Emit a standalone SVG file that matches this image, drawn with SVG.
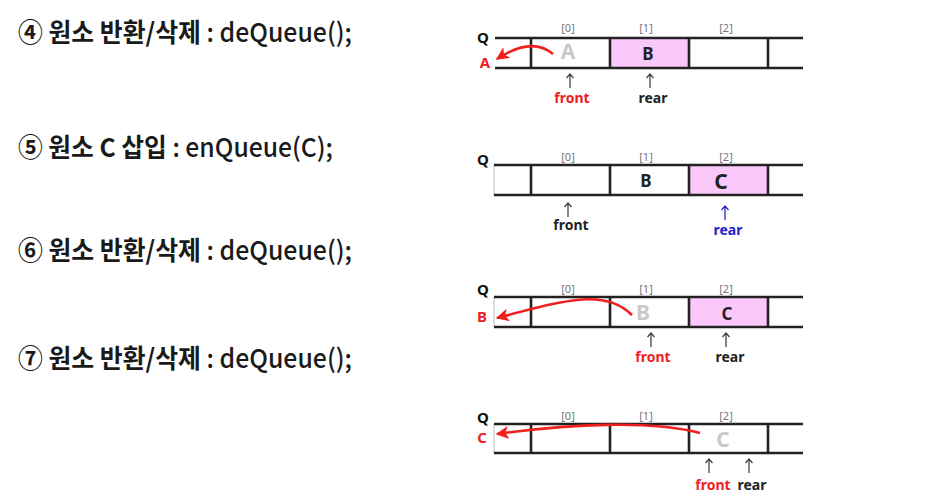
<svg xmlns="http://www.w3.org/2000/svg" width="927" height="495" viewBox="0 0 927 495">
<defs>
<style>
.step{font-family:"Noto Sans CJK KR","Noto Sans",sans-serif;font-size:26px;font-weight:bold;fill:#1a1a1a}
.lat{font-weight:500}
.rail{stroke:#222;stroke-width:2.6;fill:none}
.sep{stroke:#222;stroke-width:2.6}
.edge{stroke:#c8c8c8;stroke-width:1.2}
.pink{fill:#fbc8fb}
.q{font-family:"Noto Sans","Liberation Sans",sans-serif;font-size:15px;font-weight:bold;fill:#111;text-anchor:middle}
.idx{font-family:"Noto Sans","Liberation Sans",sans-serif;font-size:11px;fill:#777;text-anchor:middle}
.val{font-family:"Noto Sans","Liberation Sans",sans-serif;font-size:17px;font-weight:bold;fill:#222;text-anchor:middle}
.big{font-size:21px}
.gone{fill:#c8c8c8}
.ptr{font-family:"Noto Sans","Liberation Sans",sans-serif;font-size:14px;font-weight:bold;fill:#222;text-anchor:middle}
.red{fill:#f0201e}
.blue{fill:#2323cc}
.up{stroke:#444;stroke-width:1.3;fill:none}
.upb{stroke:#2323cc}
.mv{stroke:#f0201e;stroke-width:2.6;fill:none;marker-end:url(#ah)}
</style>
<marker id="ah" viewBox="0 0 10 10" refX="9" refY="5" markerWidth="5" markerHeight="5" orient="auto" markerUnits="strokeWidth">
<path d="M0,0 L10,5 L0,10 L2.5,5 Z" fill="#f0201e"/>
</marker>
</defs>
<rect width="927" height="495" fill="#fff"/>

<g id="steps">
<text class="step" x="18" y="42" textLength="334" lengthAdjust="spacingAndGlyphs">④ 원소 반환/삭제 <tspan class="lat">: deQueue();</tspan></text>
<text class="step" x="18" y="157" textLength="315" lengthAdjust="spacingAndGlyphs">⑤ 원소 C 삽입 <tspan class="lat">: enQueue(C);</tspan></text>
<text class="step" x="18" y="260" textLength="334" lengthAdjust="spacingAndGlyphs">⑥ 원소 반환/삭제 <tspan class="lat">: deQueue();</tspan></text>
<text class="step" x="18" y="368" textLength="334" lengthAdjust="spacingAndGlyphs">⑦ 원소 반환/삭제 <tspan class="lat">: deQueue();</tspan></text>
</g>

<g id="queue4">
<rect class="pink" x="610" y="38" width="79" height="30"/>
<line class="rail" x1="495" y1="38" x2="803" y2="38"/>
<line class="rail" x1="495" y1="68" x2="803" y2="68"/>
<line class="sep" x1="531" y1="38" x2="531" y2="68"/>
<line class="sep" x1="610" y1="38" x2="610" y2="68"/>
<line class="sep" x1="689" y1="38" x2="689" y2="68"/>
<line class="sep" x1="768" y1="38" x2="768" y2="68"/>
<text class="q" x="483" y="43">Q</text>
<text class="idx" x="568" y="32">[0]</text>
<text class="idx" x="646" y="32">[1]</text>
<text class="idx" x="726" y="32">[2]</text>
<text class="val big gone" x="568" y="59">A</text>
<text class="val" x="648" y="60">B</text>
<text class="q red" x="485" y="68">A</text>
<path class="up" d="M570,88 V74 M566.5,78 L570,74 L573.5,78"/>
<path class="up" d="M650,88 V74 M646.5,78 L650,74 L653.5,78"/>
<text class="ptr red" x="572" y="103">front</text>
<text class="ptr" x="653" y="103">rear</text>
</g>

<g id="queue5">
<rect class="pink" x="689" y="165" width="79" height="30"/>
<line class="edge" x1="494" y1="165" x2="494" y2="195"/>
<line class="rail" x1="494" y1="165" x2="803" y2="165"/>
<line class="rail" x1="494" y1="195" x2="803" y2="195"/>
<line class="sep" x1="531" y1="165" x2="531" y2="195"/>
<line class="sep" x1="610" y1="165" x2="610" y2="195"/>
<line class="sep" x1="689" y1="165" x2="689" y2="195"/>
<line class="sep" x1="768" y1="165" x2="768" y2="195"/>
<text class="q" x="483" y="165">Q</text>
<text class="idx" x="568" y="161">[0]</text>
<text class="idx" x="646" y="161">[1]</text>
<text class="idx" x="726" y="161">[2]</text>
<text class="val" x="646" y="187">B</text>
<text class="val big" x="721" y="189">C</text>
<path class="up" d="M568,217 V203 M564.5,207 L568,203 L571.5,207"/>
<path class="up upb" d="M725,220 V206 M721.5,210 L725,206 L728.5,210"/>
<text class="ptr" x="571" y="230">front</text>
<text class="ptr blue" x="728" y="235">rear</text>
</g>

<g id="queue6">
<rect class="pink" x="689" y="297" width="79" height="30"/>
<line class="edge" x1="494" y1="297" x2="494" y2="327"/>
<line class="rail" x1="494" y1="297" x2="803" y2="297"/>
<line class="rail" x1="494" y1="327" x2="803" y2="327"/>
<line class="sep" x1="531" y1="297" x2="531" y2="327"/>
<line class="sep" x1="610" y1="297" x2="610" y2="327"/>
<line class="sep" x1="689" y1="297" x2="689" y2="327"/>
<line class="sep" x1="768" y1="297" x2="768" y2="327"/>
<text class="q" x="483" y="295">Q</text>
<text class="idx" x="568" y="293">[0]</text>
<text class="idx" x="646" y="293">[1]</text>
<text class="idx" x="726" y="293">[2]</text>
<text class="val big gone" x="643" y="320">B</text>
<text class="val" x="727" y="320">C</text>
<text class="q red" x="482" y="322">B</text>
<path class="up" d="M651,347 V333 M647.5,337 L651,333 L654.5,337"/>
<path class="up" d="M726,347 V333 M722.5,337 L726,333 L729.5,337"/>
<text class="ptr red" x="653" y="362">front</text>
<text class="ptr" x="730" y="362">rear</text>
</g>

<g id="queue7">
<line class="edge" x1="494" y1="424" x2="494" y2="453"/>
<line class="rail" x1="494" y1="424" x2="803" y2="424"/>
<line class="rail" x1="494" y1="453" x2="803" y2="453"/>
<line class="sep" x1="531" y1="424" x2="531" y2="453"/>
<line class="sep" x1="610" y1="424" x2="610" y2="453"/>
<line class="sep" x1="689" y1="424" x2="689" y2="453"/>
<line class="sep" x1="768" y1="424" x2="768" y2="453"/>
<text class="q" x="483" y="423">Q</text>
<text class="idx" x="568" y="420">[0]</text>
<text class="idx" x="646" y="420">[1]</text>
<text class="idx" x="726" y="420">[2]</text>
<text class="val big gone" x="723" y="447">C</text>
<text class="q red" x="482" y="443">C</text>
<path class="up" d="M709,473 V459 M705.5,463 L709,459 L712.5,463"/>
<path class="up" d="M749,473 V459 M745.5,463 L749,459 L752.5,463"/>
<text class="ptr red" x="713" y="490">front</text>
<text class="ptr" x="752" y="490">rear</text>
</g>

<g id="connectors">
<path class="mv" d="M553,54 Q532,36 497,59"/>
<path class="mv" d="M632,315 C605,288 565,300 497,318"/>
<path class="mv" d="M700,433 C650,420 570,424 497,434"/>
</g>
</svg>
